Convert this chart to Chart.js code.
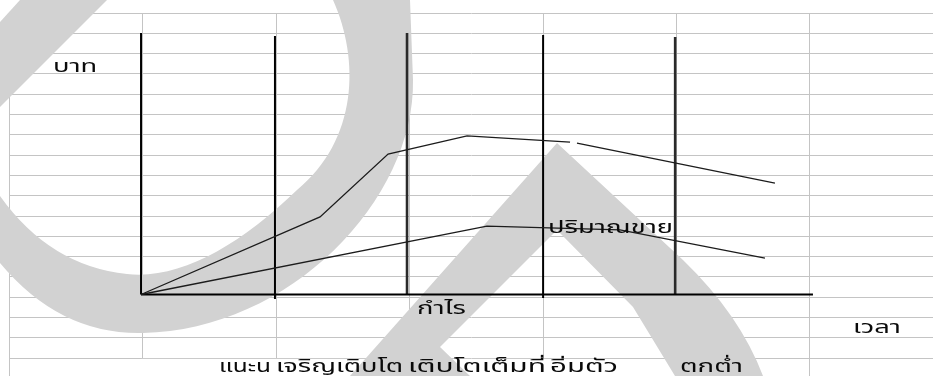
<!DOCTYPE html>
<html>
<head>
<meta charset="utf-8">
<script src="https://cdn.jsdelivr.net/npm/chart.js@4/dist/chart.umd.min.js"></script>
<style>
    html, body { margin: 0; padding: 0; background: #fff; }
    canvas { display: block; }
</style>
</head>
<body>
<canvas id="lifeCycle" width="933" height="376"></canvas>
<script>
// time is counted in sheet columns, amounts in sheet rows above the time axis
const upperTime = [0.986, 2.328, 2.838, 3.43, 4.202, 4.23, 4.254, 5.738];
const upperAmount = [0, 3.82, 6.92, 7.81, 7.51, null, 7.46, 5.49];
const lowerTime = [0.986, 3.579, 4.576, 5.663];
const lowerAmount = [0, 3.37, 3.18, 1.79];
const phaseTime = [0.986, 1.99, 2.98, 4.0, 4.99];
const phaseTop = [12.88, 12.73, 12.88, 12.78, 12.68];
const phaseBottom = [0, -0.22, 0, -0.17, 0];
const axisTime = [0.986, 6.023];
const axisAmount = [0, 0];
const stageNames = ['แนะน', 'เจริญเติบโต', 'เติบโตเต็มที่', 'อิ่มตัว', 'ตกต่ำ'];
const stageStart = [1.57, 1.998, 2.987, 4.052, 5.026];

const thaiFont = '"Noto Sans Thai", "Noto Sans Thai UI", Tahoma, Loma, Garuda, "Tlwg Typo", sans-serif';

function toPoints(xs, ys) {
    return xs.map((x, i) => ({ x: x, y: ys[i] }));
}

const datasets = [
    { data: toPoints(upperTime, upperAmount), borderColor: '#1c1c1c', borderWidth: 1.3 },
    { data: toPoints(lowerTime, lowerAmount), borderColor: '#1c1c1c', borderWidth: 1.3 },
    { data: toPoints(axisTime, axisAmount), borderColor: '#000', borderWidth: 2 }
];
phaseTime.forEach((t, i) => {
    datasets.push({
        data: [{ x: t, y: phaseBottom[i] }, { x: t, y: phaseTop[i] }],
        borderColor: i === 2 || i === 4 ? '#2a2a2a' : '#000',
        borderWidth: i === 2 || i === 4 ? 2.6 : 2
    });
});
datasets.forEach(d => {
    d.yAxisID = 'v';
    d.pointRadius = 0;
    d.tension = 0;
    d.spanGaps = false;
});

// grey watermark over the sheet, and the empty cells of the bottom row
const sheetBackdrop = {
    id: 'sheetBackdrop',
    beforeDatasetsDraw(chart) {
        const ctx = chart.ctx;
        const x = chart.scales.x, y = chart.scales.y;
        ctx.save();
        ctx.fillStyle = '#fff';
        ctx.fillRect(x.getPixelForValue(1) - 1.5, y.getPixelForValue(17) + 0.8,
            x.getPixelForValue(4) - x.getPixelForValue(1) + 3, 30);

        ctx.fillStyle = '#d2d2d2';
        // top-left stroke
        ctx.beginPath();
        ctx.moveTo(20, 0);
        ctx.lineTo(107, 0);
        ctx.lineTo(0, 107);
        ctx.lineTo(0, 22);
        ctx.closePath();
        ctx.fill();
        // the large bowl
        ctx.beginPath();
        ctx.moveTo(410, 0);
        ctx.lineTo(333, 0);
        ctx.bezierCurveTo(360, 60, 358, 140, 297, 190);
        ctx.bezierCurveTo(240, 245, 180, 280, 127, 274);
        ctx.quadraticCurveTo(50, 266, 0, 196);
        ctx.lineTo(0, 263);
        ctx.quadraticCurveTo(60, 335, 143, 333);
        ctx.bezierCurveTo(290, 330, 415, 200, 413, 80);
        ctx.closePath();
        ctx.fill();
        // the peak
        ctx.beginPath();
        ctx.moveTo(557, 143);
        ctx.lineTo(683, 260);
        ctx.quadraticCurveTo(740, 315, 763, 376);
        ctx.lineTo(675, 376);
        ctx.lineTo(633, 307);
        ctx.lineTo(557, 230);
        ctx.lineTo(440, 347);
        ctx.lineTo(470, 376);
        ctx.lineTo(350, 376);
        ctx.closePath();
        ctx.fill();
        ctx.restore();
    }
};

const sheetText = {
    id: 'sheetText',
    afterDatasetsDraw(chart) {
        const ctx = chart.ctx;
        const x = chart.scales.x, v = chart.scales.v;
        ctx.save();
        ctx.font = '17px ' + thaiFont;
        ctx.fillStyle = '#0a0a0a';
        ctx.textBaseline = 'alphabetic';
        const stretch = 125 / ctx.measureText('ปริมาณขาย').width;
        const put = (text, t, a, width) => {
            const sx = width ? width / ctx.measureText(text).width : stretch;
            ctx.save();
            ctx.translate(x.getPixelForValue(t), v.getPixelForValue(a));
            ctx.scale(sx, 1);
            ctx.fillText(text, 0, 0);
            ctx.restore();
        };
        put('บาท', 0.326, 10.96);
        put('กำไร', 3.055, -0.96);
        put('ปริมาณขาย', 4.037, 3.03);
        put('เวลา', 6.323, -1.9);
        const stageWidth = [52, 127, 138, 68, 63];
        stageNames.forEach((name, i) => put(name, stageStart[i], -3.82, stageWidth[i]));
        ctx.restore();
    }
};

new Chart(document.getElementById('lifeCycle').getContext('2d'), {
    type: 'line',
    data: { datasets: datasets },
    options: {
        responsive: false,
        animation: false,
        events: [],
        layout: { padding: { left: 9.5, top: 13, right: 0, bottom: 0 } },
        plugins: { legend: { display: false }, tooltip: { enabled: false } },
        scales: {
            x: {
                type: 'linear',
                min: 0,
                max: 923.5 / 133.4,
                ticks: { display: false, stepSize: 1, includeBounds: false },
                grid: { color: '#c4c4c4', lineWidth: 1, drawTicks: false },
                border: { display: false }
            },
            y: {
                type: 'linear',
                reverse: true,
                min: 0,
                max: 363 / 20.3,
                ticks: { display: false, stepSize: 1, includeBounds: false },
                grid: { color: '#c4c4c4', lineWidth: 1, drawTicks: false },
                border: { display: false }
            },
            v: {
                type: 'linear',
                display: false,
                min: (294.5 - 376) / 20.3,
                max: (294.5 - 13) / 20.3
            }
        }
    },
    plugins: [sheetBackdrop, sheetText]
});
</script>
</body>
</html>
